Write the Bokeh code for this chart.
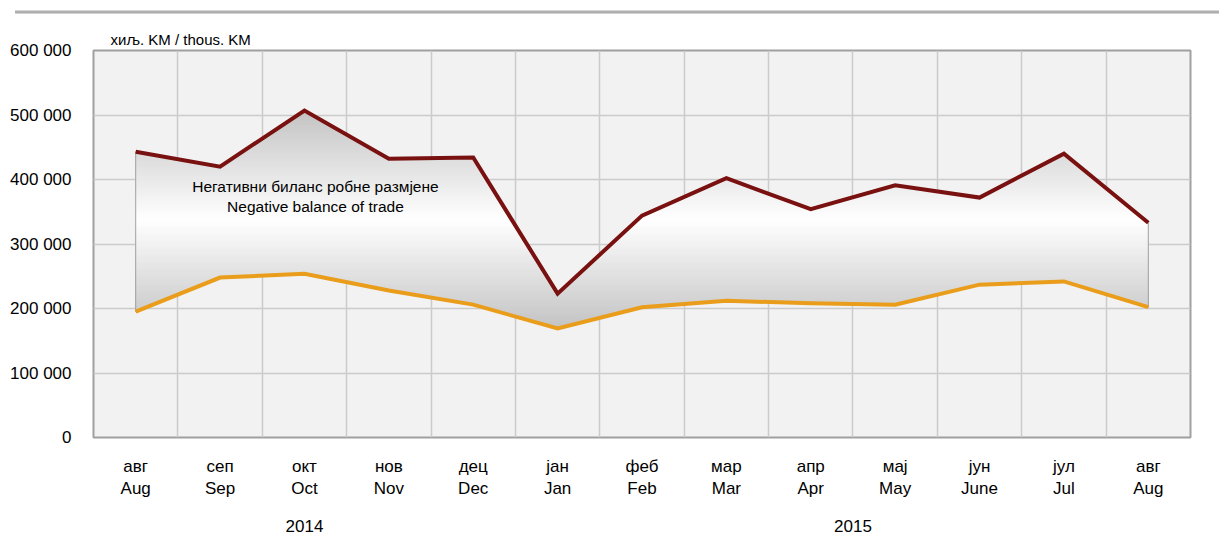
import numpy as np
from bokeh.plotting import figure
from bokeh.models import Range1d, FixedTicker, Label, Div, LinearAxis
from bokeh.layouts import column
from bokeh.embed import file_html
from bokeh.resources import INLINE

# ---- data ----
months_local = ["авг", "сеп", "окт", "нов", "дец", "јан", "феб", "мар", "апр", "мај", "јун", "јул", "авг"]
months_en = ["Aug", "Sep", "Oct", "Nov", "Dec", "Jan", "Feb", "Mar", "Apr", "May", "June", "Jul", "Aug"]
years = ["2014", "2015"]
year_centers = [2, 8.5]
imports = [443000, 420000, 507000, 432000, 434000, 223000, 344000, 402000, 354000, 391000, 372000, 440000, 333000]
exports = [195000, 248000, 254000, 228000, 206000, 169000, 202000, 212000, 208000, 206000, 237000, 242000, 202000]
y_ticks = [0, 100000, 200000, 300000, 400000, 500000, 600000]
y_tick_labels = ["0", "100 000", "200 000", "300 000", "400 000", "500 000", "600 000"]
unit_label = "хиљ. KM / thous. KM"
area_label = ["Негативни биланс робне размјене", "Negative balance of trade"]

FONT = "Liberation Sans"
x = np.arange(len(imports), dtype=float)
imp = np.array(imports, dtype=float)
exp_ = np.array(exports, dtype=float)

p = figure(width=1203, height=527, x_range=Range1d(-0.5, 12.5), y_range=Range1d(0, 600000),
           output_backend="svg", toolbar_location=None,
           min_border_left=93, min_border_right=13, min_border_top=32, min_border_bottom=108,
           background_fill_color="#f2f2f2", border_fill_color="white")
p.outline_line_color = "#a0a0a0"
p.outline_line_width = 2

p.title.text = unit_label
p.title.align = "left"
p.title.offset = 17
p.title.standoff = 6
p.title.text_font = FONT
p.title.text_font_size = "15px"
p.title.text_font_style = "normal"
p.title.text_color = "#000000"

p.ygrid.ticker = FixedTicker(ticks=y_ticks)
p.xgrid.ticker = FixedTicker(ticks=[i + 0.5 for i in range(len(imports) - 1)])
for g in (p.xgrid, p.ygrid):
    g.grid_line_color = "#cbcbcb"
    g.grid_line_width = 1.5

p.yaxis.ticker = FixedTicker(ticks=y_ticks)
p.yaxis.major_label_overrides = {t: l for t, l in zip(y_ticks, y_tick_labels)}
p.xaxis.ticker = FixedTicker(ticks=list(range(len(imports))))
p.xaxis.major_label_overrides = {i: f"{a}\n{b}" for i, (a, b) in enumerate(zip(months_local, months_en))}

year_axis = LinearAxis(ticker=FixedTicker(ticks=year_centers),
                       major_label_overrides={c: y for c, y in zip(year_centers, years)})
p.add_layout(year_axis, "below")

for ax in (p.xaxis[0], p.yaxis[0], year_axis):
    ax.axis_line_color = None
    ax.major_tick_line_color = None
    ax.minor_tick_line_color = None
    ax.major_label_text_font = FONT
    ax.major_label_text_font_size = "17px"
    ax.major_label_text_color = "#000000"
p.yaxis.major_label_standoff = 16
p.xaxis[0].major_label_standoff = 13
year_axis.major_label_standoff = 12

# ---- gradient fill between the two series ----
ymin, ymax = exp_.min(), imp.max()
N = 90
edges = np.linspace(ymin, ymax, N + 1)
xs = set(x.tolist())
for a in edges:
    for s in (imp, exp_):
        for i in range(len(s) - 1):
            v0, v1 = s[i], s[i + 1]
            if (v0 - a) * (v1 - a) < 0:
                xs.add(i + (a - v0) / (v1 - v0))
xs = np.array(sorted(xs))
lo = np.interp(xs, x, exp_)
hi = np.interp(xs, x, imp)
for k in range(N):
    a = edges[k]
    t = (k + 0.5) / N
    d = abs(2 * t - 1)
    lev = int(round(255 - 60 * d ** 1.0))
    col = "#%02x%02x%02x" % (lev, lev, lev)
    y1 = np.minimum(np.maximum(lo, a), hi)
    p.varea(x=xs, y1=y1, y2=hi, fill_color=col)

p.patch(np.concatenate([x, x[::-1]]), np.concatenate([imp, exp_[::-1]]),
        fill_color=None, line_color="#a0a0a0", line_width=1)

p.line(x, exp_, line_color="#e99d1b", line_width=4, line_join="miter")
p.line(x, imp, line_color="#7a1111", line_width=4, line_join="miter")

# ---- labels ----
p.add_layout(Label(x=2.13, y=389000, text=area_label[0], text_font=FONT, text_font_size="15.5px",
                   text_align="center", text_baseline="middle", text_color="#000000"))
p.add_layout(Label(x=2.13, y=358000, text=area_label[1], text_font=FONT, text_font_size="15.5px",
                   text_align="center", text_baseline="middle", text_color="#000000"))

top = Div(text='<div style="position:relative;top:-3px;margin-left:10px;width:1210px;height:4px;'
               'background:linear-gradient(#ececec,#9c9c9c,#e4e4e4);"></div>', width=1203, height=8)

layout = column(top, p)
open("out.html", "w").write(file_html(layout, INLINE))
